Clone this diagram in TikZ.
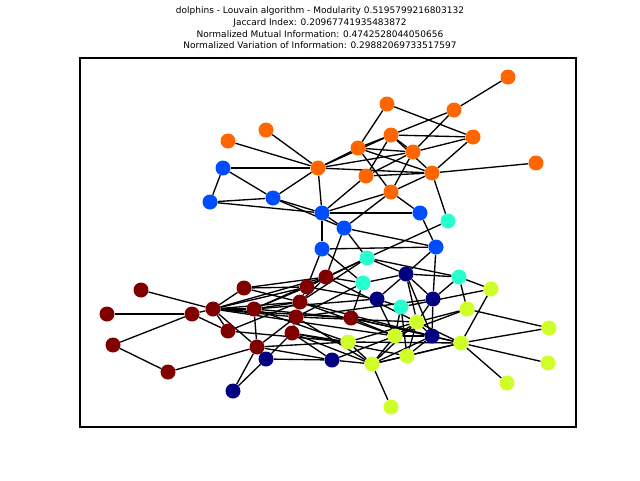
\documentclass[tikz,border=0pt]{standalone}
\usepackage{fontspec}
\setmainfont{DejaVu Sans}
\usetikzlibrary{backgrounds}
\definecolor{podorange}{RGB}{255,102,0}
\definecolor{podblue}{RGB}{0,76,255}
\definecolor{podcyan}{RGB}{41,255,206}
\definecolor{podnavy}{RGB}{0,0,128}
\definecolor{podlime}{RGB}{206,255,41}
\definecolor{podred}{RGB}{128,0,0}

\begin{document}
\begin{tikzpicture}[x=0.75pt, y=-0.75pt]
\tikzstyle{pod}=[circle, minimum size=11.25pt, inner sep=0pt, draw=none]
\tikzstyle{every edge}=[draw, line width=1pt]
\useasboundingbox (0,0) rectangle (640,480);
   \node[align=center, font=\fontsize{6.75}{8.7}\selectfont](title) at (320,28){dolphins - Louvain algorithm - Modularity 0.5195799216803132\\Jaccard Index: 0.20967741935483872\\Normalized Mutual Information: 0.4742528044050656\\Normalized Variation of Information: 0.29882069733517597};
   \draw[line width=0.8pt] (80,58) rectangle (576,427);
% orange community
   \node[pod, fill=podorange](o1) at (508,77){};
   \node[pod, fill=podorange](o2) at (387,104){};
   \node[pod, fill=podorange](o3) at (454,110){};
   \node[pod, fill=podorange](o4) at (266,130){};
   \node[pod, fill=podorange](o5) at (228,141){};
   \node[pod, fill=podorange](o6) at (391,135){};
   \node[pod, fill=podorange](o7) at (473,137){};
   \node[pod, fill=podorange](o8) at (358,148){};
   \node[pod, fill=podorange](o9) at (413,152){};
   \node[pod, fill=podorange](o10) at (318,168){};
   \node[pod, fill=podorange](o11) at (366,176){};
   \node[pod, fill=podorange](o12) at (432,173){};
   \node[pod, fill=podorange](o13) at (536,163){};
   \node[pod, fill=podorange](o14) at (391,192){};
% blue community
   \node[pod, fill=podblue](b1) at (223,168){};
   \node[pod, fill=podblue](b2) at (210,202){};
   \node[pod, fill=podblue](b3) at (273,198){};
   \node[pod, fill=podblue](b4) at (322,213){};
   \node[pod, fill=podblue](b5) at (344,228){};
   \node[pod, fill=podblue](b6) at (420,213){};
   \node[pod, fill=podblue](b7) at (322,249){};
   \node[pod, fill=podblue](b8) at (436,247){};
% cyan community
   \node[pod, fill=podcyan](c1) at (448,221){};
   \node[pod, fill=podcyan](c2) at (367,258){};
   \node[pod, fill=podcyan](c3) at (363,283){};
   \node[pod, fill=podcyan](c4) at (459,277){};
   \node[pod, fill=podcyan](c5) at (401,307){};
% navy community
   \node[pod, fill=podnavy](n1) at (406,274){};
   \node[pod, fill=podnavy](n2) at (377,299){};
   \node[pod, fill=podnavy](n3) at (433,299){};
   \node[pod, fill=podnavy](n4) at (432,336){};
   \node[pod, fill=podnavy](n5) at (332,360){};
   \node[pod, fill=podnavy](n6) at (266,359){};
   \node[pod, fill=podnavy](n7) at (233,391){};
% lime community
   \node[pod, fill=podlime](y1) at (491,289){};
   \node[pod, fill=podlime](y2) at (467,309){};
   \node[pod, fill=podlime](y3) at (417,322){};
   \node[pod, fill=podlime](y4) at (395,336){};
   \node[pod, fill=podlime](y5) at (348,342){};
   \node[pod, fill=podlime](y6) at (461,343){};
   \node[pod, fill=podlime](y7) at (407,356){};
   \node[pod, fill=podlime](y8) at (372,364){};
   \node[pod, fill=podlime](y9) at (549,328){};
   \node[pod, fill=podlime](y10) at (548,363){};
   \node[pod, fill=podlime](y11) at (507,383){};
   \node[pod, fill=podlime](y12) at (391,407){};
% dark red community
   \node[pod, fill=podred](r1) at (141,290){};
   \node[pod, fill=podred](r2) at (107,314){};
   \node[pod, fill=podred](r3) at (192,314){};
   \node[pod, fill=podred](r4) at (213,309){};
   \node[pod, fill=podred](r5) at (244,288){};
   \node[pod, fill=podred](r6) at (254,309){};
   \node[pod, fill=podred](r7) at (228,331){};
   \node[pod, fill=podred](r8) at (113,345){};
   \node[pod, fill=podred](r9) at (168,372){};
   \node[pod, fill=podred](r10) at (257,347){};
   \node[pod, fill=podred](r11) at (307,287){};
   \node[pod, fill=podred](r12) at (326,277){};
   \node[pod, fill=podred](r13) at (300,302){};
   \node[pod, fill=podred](r14) at (296,317){};
   \node[pod, fill=podred](r15) at (292,333){};
   \node[pod, fill=podred](r16) at (351,318){};
\begin{scope}[on background layer]
   \path (o1) edge (o3);
   \path (o2) edge (o8) edge (o7);
   \path (o3) edge (o6) edge (o9);
   \path (o4) edge (o10);
   \path (o5) edge (o10);
   \path (o6) edge (o7) edge (o8) edge (o9) edge (o10) edge (o11) edge (o12);
   \path (o7) edge (o9) edge (o12);
   \path (o8) edge (o9) edge (o10) edge (o12) edge (o14);
   \path (o9) edge (o10) edge (o11) edge (o14);
   \path (o10) edge (o12) edge (b1) edge (b3) edge (b4);
   \path (o11) edge (o12) edge (b4);
   \path (o12) edge (o13) edge (o14) edge (c1);
   \path (o14) edge (b4) edge (b5) edge (b6);
   \path (b1) edge (b2) edge (b3);
   \path (b2) edge (b3) edge (b4);
   \path (b3) edge (b4) edge (b5);
   \path (b4) edge (b5) edge (b6) edge (b7);
   \path (b5) edge (b8) edge (c2) edge (r12);
   \path (b6) edge (b8);
   \path (b7) edge (b8) edge (r11) edge (c3);
   \path (b8) edge (n1) edge (n3);
   \path (c1) edge (c2);
   \path (c2) edge (c4) edge (n1) edge (r11) edge (r12) edge (r13);
   \path (c3) edge (n1) edge (r12) edge (r14) edge (r16);
   \path (c4) edge (n1) edge (n3) edge (y1) edge (y2);
   \path (c5) edge (n2) edge (y4) edge (y7) edge (y1);
   \path (n1) edge (n2) edge (n3) edge (n4) edge (y3);
   \path (n2) edge (y4) edge (r11) edge (r6);
   \path (n3) edge (n4) edge (y3) edge (r14);
   \path (n4) edge (y3) edge (y4) edge (y6) edge (y7) edge (y8) edge (r13) edge (r16);
   \path (n5) edge (n6) edge (y8) edge (y4) edge (r10) edge (r15);
   \path (n6) edge (n7) edge (r10) edge (r15);
   \path (n7) edge (r10);
   \path (y1) edge (y6);
   \path (y2) edge (y3) edge (y4) edge (y9);
   \path (y3) edge (y4) edge (y6) edge (y7) edge (y8) edge (y5) edge (r12) edge (r14);
   \path (y4) edge (y8) edge (r4) edge (r13) edge (r16);
   \path (y5) edge (y6) edge (y8) edge (r6) edge (r7) edge (r10) edge (r15);
   \path (y6) edge (y7) edge (y8) edge (y9) edge (y10) edge (y11) edge (r16);
   \path (y7) edge (y8) edge (r15);
   \path (y8) edge (y12) edge (r14) edge (r15);
   \path (r1) edge (r4);
   \path (r2) edge (r3);
   \path (r3) edge (r4) edge (r7) edge (r8);
   \path (r4) edge (r5) edge (r6) edge (r7) edge (r10) edge (r11) edge (r12) edge (r13) edge (r14) edge (r16);
   \path (r5) edge (r11) edge (r12) edge (r13);
   \path (r6) edge (r10) edge (r11) edge (r12) edge (r13) edge (r16);
   \path (r7) edge (r13);
   \path (r8) edge (r9);
   \path (r9) edge (r10);
   \path (r10) edge (r14);
   \path (r11) edge (r12) edge (r13);
   \path (r12) edge (r13);
   \path (r13) edge (r14);
   \path (r14) edge (r15);
\end{scope}
\end{tikzpicture}
\end{document}
